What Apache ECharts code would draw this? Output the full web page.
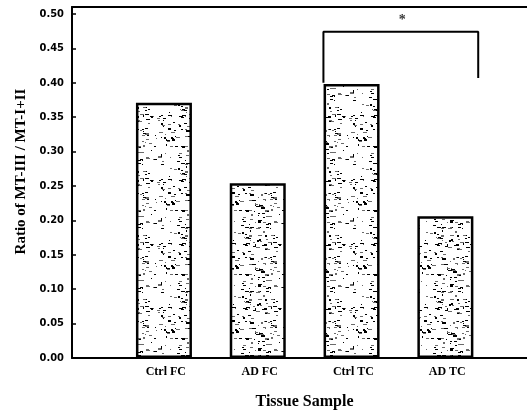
<!DOCTYPE html>
<html>
<head>
<meta charset="utf-8">
<script src="https://cdn.jsdelivr.net/npm/echarts@6/dist/echarts.min.js"></script>
<style>
  html, body { margin: 0; padding: 0; background: #fff; }
  #chart { width: 527px; height: 415px; }
</style>
</head>
<body>
<div id="chart"></div>
<script>
// Tissue samples and MT-III / MT-I+II ratios
const categories = ['Ctrl FC', 'AD FC', 'Ctrl TC', 'AD TC'];
const ratios = [0.371, 0.254, 0.398, 0.206];
const yTicks = [0, 0.05, 0.10, 0.15, 0.20, 0.25, 0.30, 0.35, 0.40, 0.45, 0.50];

// Significance bracket between Ctrl TC and AD TC (x in category positions)
const bracketX = [2.7, 2.7, 4.35, 4.35];
const bracketY = [0.400, 0.474, 0.474, 0.407];
const starMark = { x: 3.54, y: 0.490, text: '*' };

// Speckled fill texture for the bars (deterministic hash, purely decorative)
function speckle() {
  const c = document.createElement('canvas');
  c.width = 64; c.height = 64;
  const g = c.getContext('2d');
  g.fillStyle = '#ffffff';
  g.fillRect(0, 0, 64, 64);
  let h = 98765;
  const next = () => { h = (h * 1103515245 + 12345) & 0x7fffffff; return h / 0x7fffffff; };
  for (let i = 0; i < 170; i++) {
    const x = Math.floor(next() * 64);
    const y = Math.floor(next() * 64);
    const w = 1 + Math.floor(next() * 4);
    const hh = next() < 0.85 ? 1 : 2;
    g.fillStyle = next() < 0.6 ? '#000000' : '#6a6a6a';
    g.fillRect(x, y, w, hh);
  }
  return c;
}

const chart = echarts.init(document.getElementById('chart'), null, { renderer: 'canvas' });

const serif = '"Liberation Serif", "DejaVu Serif", serif';
const narrow = '"Liberation Sans Narrow", "DejaVu Sans Condensed", "Liberation Sans", sans-serif';

chart.setOption({
  animation: false,
  backgroundColor: '#ffffff',
  grid: { left: 72, right: 0, top: 7, bottom: 57 },
  xAxis: [{
    type: 'value',
    min: 0.02,
    max: 4.87,
    interval: 1,
    splitLine: { show: false },
    axisLine: { show: true, lineStyle: { color: '#000', width: 2 } },
    axisTick: { show: false },
    axisLabel: {
      color: '#000',
      fontFamily: serif,
      fontWeight: 'bold',
      fontSize: 12,
      margin: 8,
      showMinLabel: false,
      showMaxLabel: false,
      formatter: v => categories[Math.round(v) - 1] || ''
    },
    name: 'Tissue Sample',
    nameLocation: 'middle',
    nameGap: 36,
    nameTextStyle: { color: '#000', fontFamily: serif, fontWeight: 'bold', fontSize: 16, padding: [0, 0, 0, 10] }
  }, {
    type: 'value',
    position: 'top',
    min: 0.02,
    max: 4.87,
    axisLine: { show: true, onZero: false, lineStyle: { color: '#000', width: 2 } },
    axisTick: { show: false },
    axisLabel: { show: false },
    splitLine: { show: false }
  }],
  yAxis: {
    type: 'value',
    min: 0,
    max: 0.51,
    interval: 0.05,
    splitLine: { show: false },
    axisLine: { show: true, lineStyle: { color: '#000', width: 2 } },
    axisTick: { show: true, inside: true, length: 4, lineStyle: { color: '#000', width: 1.5 } },
    axisLabel: {
      color: '#000',
      fontFamily: narrow,
      fontSize: 11,
      fontWeight: 'bold',
      margin: 8,
      showMaxLabel: false,
      formatter: v => yTicks.includes(Math.round(v * 100) / 100) ? v.toFixed(2) : ''
    },
    name: 'Ratio of MT-III / MT-I+II',
    nameLocation: 'middle',
    nameGap: 43,
    nameTextStyle: { color: '#000', fontFamily: serif, fontWeight: 'bold', fontSize: 15, padding: [0, 0, 0, 22] }
  },
  series: [{
    type: 'bar',
    data: ratios.map((v, i) => [i + 1, v]),
    barWidth: 56,
    itemStyle: {
      color: { image: speckle(), repeat: 'repeat' },
      borderColor: '#000',
      borderWidth: 2.5
    }
  }, {
    type: 'line',
    data: bracketX.map((x, i) => [x, bracketY[i]]),
    symbol: 'none',
    lineStyle: { color: '#000', width: 2 },
    z: 5
  }, {
    type: 'scatter',
    data: [[starMark.x, starMark.y]],
    symbolSize: 0,
    label: {
      show: true,
      position: 'inside',
      formatter: starMark.text,
      color: '#000',
      fontFamily: serif,
      fontWeight: 'bold',
      fontSize: 14
    }
  }]
});
</script>
</body>
</html>
